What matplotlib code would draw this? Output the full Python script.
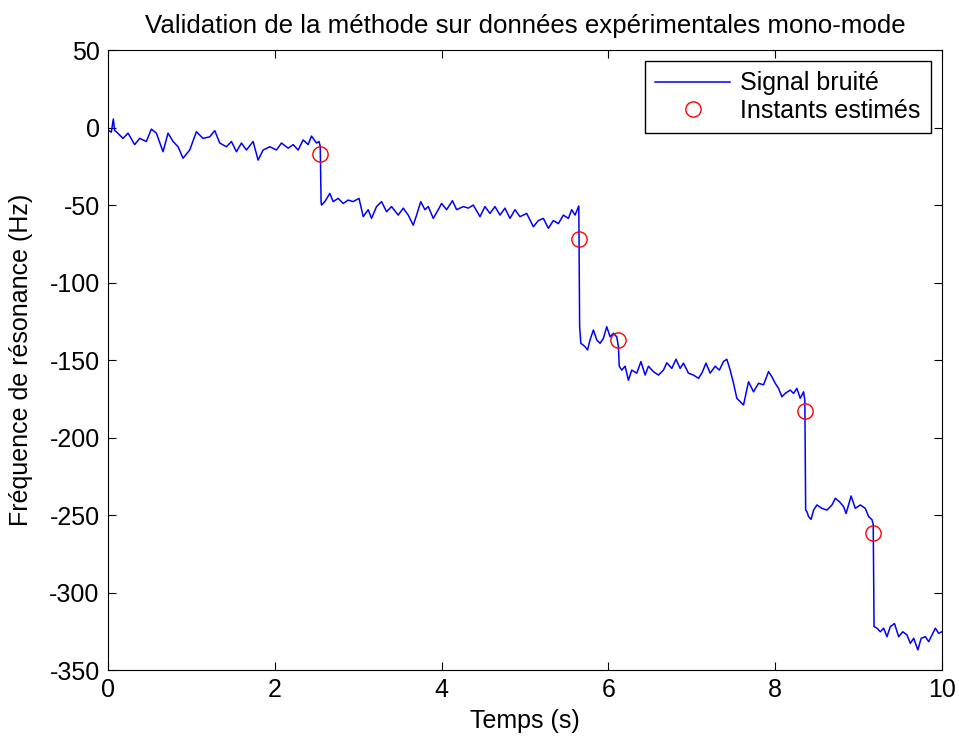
import numpy as np
import matplotlib.pyplot as plt

plt.rcParams['font.family'] = ['Liberation Sans', 'DejaVu Sans']
plt.rcParams['axes.unicode_minus'] = False

# -----------------------------
# Data
# -----------------------------
t_signal = [
    0.00, 0.04, 0.064, 0.08, 0.10, 0.18, 0.24, 0.32, 0.38, 0.46, 0.52, 0.58, 0.66,
    0.72, 0.78, 0.84, 0.90, 0.98, 1.06, 1.14, 1.22, 1.28, 1.34, 1.42, 1.48,
    1.54, 1.60, 1.66, 1.74, 1.80, 1.86, 1.94, 2.02, 2.08, 2.16, 2.22, 2.28,
    2.34, 2.40, 2.44, 2.50, 2.53, 2.545,
    2.555, 2.56, 2.60, 2.66, 2.70, 2.76, 2.82, 2.88, 2.94, 3.01, 3.06, 3.12,
    3.16, 3.22, 3.28, 3.34, 3.40, 3.48, 3.54, 3.60, 3.66, 3.70, 3.75, 3.80,
    3.84, 3.90, 3.96, 4.00, 4.06, 4.13, 4.18, 4.26, 4.32, 4.38, 4.46, 4.52,
    4.58, 4.64, 4.70, 4.76, 4.82, 4.88, 4.94, 5.02, 5.10, 5.16, 5.22, 5.28,
    5.34, 5.40, 5.46, 5.52, 5.56, 5.60, 5.645,
    5.655, 5.67, 5.69, 5.72, 5.75, 5.78, 5.82, 5.86, 5.90, 5.94, 5.98, 6.02,
    6.06, 6.10, 6.12,
    6.13, 6.16, 6.20, 6.24, 6.28, 6.34, 6.39, 6.44, 6.48, 6.54, 6.60, 6.66,
    6.70, 6.76, 6.81, 6.86, 6.90, 6.96, 7.02, 7.08, 7.12, 7.17, 7.22, 7.28,
    7.33, 7.38, 7.42, 7.46, 7.50, 7.54, 7.62, 7.68, 7.74, 7.80, 7.86, 7.92,
    7.96, 8.00, 8.04, 8.08, 8.12, 8.18, 8.22, 8.26, 8.30, 8.34, 8.355,
    8.365, 8.38, 8.40, 8.43, 8.46, 8.50, 8.56, 8.62, 8.68, 8.72, 8.77, 8.82,
    8.85, 8.91, 8.96, 9.02, 9.08, 9.12, 9.16, 9.175,
    9.185, 9.22, 9.26, 9.30, 9.34, 9.38, 9.43, 9.48, 9.53, 9.58, 9.62, 9.66,
    9.71, 9.75, 9.80, 9.84, 9.88, 9.92, 9.96, 10.00,
]
f_signal = [
    -1.6, -3.0, 5.5, -2.0, -2.7, -7.0, -3.6, -11.0, -7.0, -9.0, -1.0, -3.6, -15.6,
    -3.6, -9.0, -12.4, -19.8, -14.5, -2.7, -7.0, -6.0, -2.0, -10.0, -12.4, -9.0,
    -15.6, -10.0, -14.5, -9.0, -21.0, -14.5, -12.4, -14.5, -10.0, -13.3, -11.0, -14.5,
    -8.0, -11.0, -5.5, -10.0, -9.0, -12.0,
    -47.8, -50.0, -47.8, -42.5, -47.8, -45.7, -49.0, -46.8, -47.8, -45.7, -57.5, -53.0,
    -58.6, -51.0, -47.8, -54.3, -51.0, -56.5, -52.0, -56.5, -63.0, -56.5, -47.8, -53.0,
    -51.0, -58.6, -53.0, -49.0, -53.0, -47.2, -53.0, -51.0, -52.0, -50.0, -57.5, -51.0,
    -55.4, -51.0, -56.5, -52.0, -58.6, -53.0, -57.5, -55.4, -64.0, -60.0, -58.6, -65.0,
    -60.0, -62.0, -56.5, -58.6, -53.0, -56.5, -50.6,
    -128.5, -139.3, -140.0, -141.4, -143.5, -137.0, -130.6, -137.0, -139.2, -136.0, -128.5, -135.0,
    -132.8, -135.0, -141.4,
    -154.0, -156.5, -154.0, -163.0, -156.5, -158.5, -151.0, -159.7, -154.0, -157.5, -159.7, -156.5,
    -151.8, -155.4, -149.5, -155.4, -152.0, -158.5, -159.7, -161.8, -158.5, -152.0, -158.5, -154.0,
    -156.5, -151.0, -149.5, -156.5, -165.0, -174.7, -179.0, -164.0, -170.5, -165.0, -166.0, -157.5,
    -160.8, -165.0, -168.3, -173.7, -171.5, -169.4, -171.5, -168.3, -174.7, -170.5, -176.0,
    -246.8, -247.8, -251.0, -252.8, -246.8, -243.5, -245.7, -246.8, -243.5, -239.2, -241.4, -244.6,
    -249.0, -237.7, -245.7, -243.5, -245.7, -251.0, -253.0, -256.0,
    -322.0, -323.0, -325.3, -323.0, -328.5, -322.0, -320.0, -328.5, -325.3, -327.4, -332.8, -329.5,
    -337.0, -329.5, -328.5, -331.7, -327.4, -323.0, -326.3, -325.3,
]

# Estimated change instants
t_instants = [2.54, 5.65, 6.12, 8.36, 9.17]
f_instants = [-17.0, -72.0, -137.0, -183.0, -261.5]

# -----------------------------
# Plot
# -----------------------------
fig = plt.figure(figsize=(9.59, 7.38), dpi=100)
ax = fig.add_axes([0.1126, 0.0921, 0.8697, 0.8401])

ax.plot(t_signal, f_signal, color='#0000ff', linewidth=1.1, label='Signal bruité')
ax.plot(t_instants, f_instants, 'o', markerfacecolor='none', markeredgecolor='#ff0000',
        markersize=11, markeredgewidth=1.0, linestyle='none', label='Instants estimés')

ax.set_xlim(0, 10)
ax.set_ylim(-350, 50)
ax.set_xticks(np.arange(0, 11, 2))
ax.set_yticks(np.arange(-350, 51, 50))
ax.tick_params(direction='in', top=True, right=True, length=6, labelsize=18, pad=6)

ax.set_title('Validation de la méthode sur données expérimentales mono-mode',
             fontsize=18.6, pad=12)
ax.set_xlabel('Temps (s)', fontsize=18, labelpad=5)
ax.set_ylabel('Fréquence de résonance (Hz)', fontsize=18, labelpad=12)

leg = ax.legend(loc='upper right', fontsize=18, fancybox=False, edgecolor='black',
                framealpha=1, borderaxespad=0.45, handlelength=3.0, handletextpad=0.4,
                labelspacing=0.15, borderpad=0.4)
leg.get_frame().set_linewidth(1.0)

fig.savefig('out.png', dpi=100)
